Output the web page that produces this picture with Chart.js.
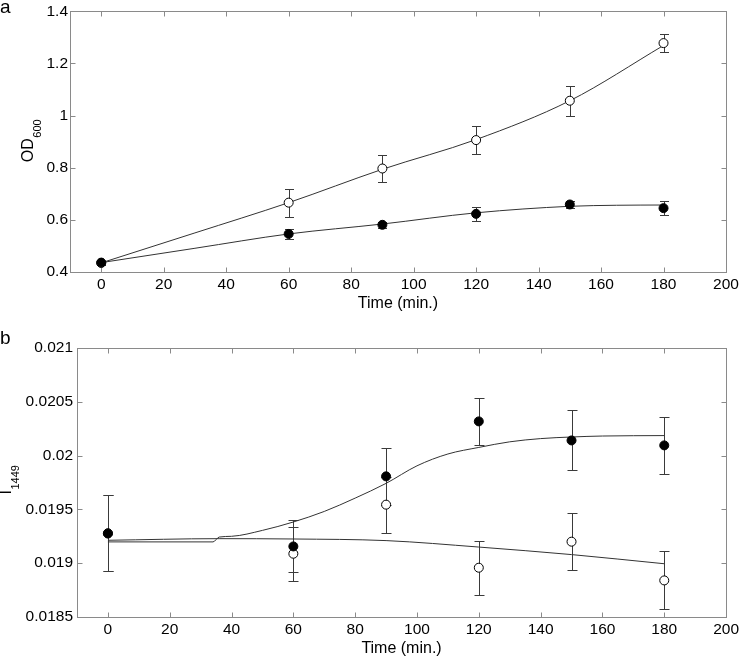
<!DOCTYPE html>
<html>
<head>
<meta charset="utf-8">
<script src="https://cdn.jsdelivr.net/npm/chart.js@4.4.1/dist/chart.umd.min.js"></script>
<style>
  body { margin: 0; background: #fff; }
  #marco { position: relative; width: 742px; height: 658px; }
  #marco canvas { position: absolute; left: 0; }
  .letra { position: absolute; font-family: "Liberation Sans", Arial, sans-serif; font-size: 19px; color: #000; line-height: 1; }
</style>
</head>
<body>
<div id="marco">
  <canvas id="graficoA" width="742" height="330" style="top:0"></canvas>
  <canvas id="graficoB" width="742" height="328" style="top:330px"></canvas>
  <div class="letra" style="left:0px;top:-3px">a</div>
  <div class="letra" style="left:0px;top:328px">b</div>
</div>
<script>
// Datos
const tiempos = [0, 60, 90, 120, 150, 180];
const ticksX = [0, 20, 40, 60, 80, 100, 120, 140, 160, 180, 200];

// Panel a: OD600
const odAbierto = [0.435, 0.666, 0.797, 0.906, 1.057, 1.278];
const odAbiertoErr = [0, 0.054, 0.052, 0.053, 0.058, 0.035];
const odLleno = [0.436, 0.546, 0.581, 0.623, 0.659, 0.645];
const odLlenoErr = [0.008, 0.019, 0.012, 0.026, 0.014, 0.028];
const ajusteTiemposA = [0, 30, 60, 90, 120, 150, 180];
const ajusteAbiertoA = [0.435, 0.550, 0.666, 0.794, 0.908, 1.057, 1.269];
const ajusteTiemposLlenoA = [0, 30, 60, 90, 120, 150, 165, 180];
const ajusteLlenoA = [0.436, 0.491, 0.546, 0.584, 0.627, 0.652, 0.656, 0.657];
const ticksYA = [0.4, 0.6, 0.8, 1, 1.2, 1.4];

// Panel b: I1449
const iAbierto = [0.019277, 0.019088, 0.019544, 0.018958, 0.0192, 0.01884];
const iAbiertoErr = [0.000353, 0.000251, 0.00026, 0.00025, 0.000263, 0.00027];
const iLleno = [0.019277, 0.019156, 0.019807, 0.020318, 0.020141, 0.020095];
const iLlenoErr = [0.000353, 0.000242, 0.000264, 0.00022, 0.000279, 0.000263];
const ajusteTiemposAbiertoB = [0, 36, 60, 90, 120, 150, 180];
const ajusteAbiertoB = [0.019213, 0.019228, 0.019225, 0.01921, 0.01915, 0.01908, 0.018995];
const ajusteTiemposLlenoB = [0, 34, 36, 40, 50, 60, 70, 80, 90, 100, 110, 120, 130, 140, 150, 160, 180];
const ajusteLlenoB = [0.019198, 0.019198, 0.019243, 0.01925, 0.019305, 0.019383, 0.019481, 0.019605, 0.019742, 0.019905, 0.020015, 0.020076, 0.020128, 0.020158, 0.020173, 0.020182, 0.020186];
const ticksYB = [0.0185, 0.019, 0.0195, 0.02, 0.0205, 0.021];

const fuente = '"Liberation Sans", Arial, Helvetica, sans-serif';
Chart.defaults.font.family = fuente;
Chart.defaults.color = '#000';

function puntos(xs, ys) {
  return xs.map((x, i) => ({ x: x, y: ys[i] }));
}

// Caja de ejes con marcas hacia dentro (estilo MATLAB)
const cajaEjes = {
  id: 'cajaEjes',
  beforeDatasetsDraw(chart) {
    const { ctx, chartArea: a, scales: { x, y } } = chart;
    const l = Math.round(a.left) + 0.5, r = Math.round(a.right) + 0.5;
    const t = Math.round(a.top) + 0.5, b = Math.round(a.bottom) + 0.5;
    ctx.save();
    ctx.strokeStyle = '#8a8a8a';
    ctx.lineWidth = 1;
    ctx.strokeRect(l, t, r - l, b - t);
    ctx.beginPath();
    x.ticks.forEach(tk => {
      const px = Math.round(x.getPixelForValue(tk.value)) + 0.5;
      ctx.moveTo(px, b); ctx.lineTo(px, b - 5);
      ctx.moveTo(px, t); ctx.lineTo(px, t + 5);
    });
    y.ticks.forEach(tk => {
      const py = Math.round(y.getPixelForValue(tk.value)) + 0.5;
      ctx.moveTo(l, py); ctx.lineTo(l + 5, py);
      ctx.moveTo(r, py); ctx.lineTo(r - 5, py);
    });
    ctx.stroke();
    ctx.restore();
  }
};

// Barras de error
const barrasError = {
  id: 'barrasError',
  beforeDatasetsDraw(chart) {
    const { ctx, scales: { x, y } } = chart;
    ctx.save();
    ctx.strokeStyle = '#3a3a3a';
    ctx.lineWidth = 1;
    chart.data.datasets.forEach(ds => {
      if (!ds.errores) return;
      ds.data.forEach((p, i) => {
        const e = ds.errores[i];
        if (!e) return;
        const px = Math.round(x.getPixelForValue(p.x)) + 0.5;
        const arriba = Math.round(y.getPixelForValue(p.y + e)) + 0.5;
        const abajo = Math.round(y.getPixelForValue(p.y - e)) + 0.5;
        const c = ds.capa;
        ctx.beginPath();
        ctx.moveTo(px, arriba); ctx.lineTo(px, abajo);
        ctx.moveTo(px - c, arriba); ctx.lineTo(px + c, arriba);
        ctx.moveTo(px - c, abajo); ctx.lineTo(px + c, abajo);
        ctx.stroke();
      });
    });
    ctx.restore();
  }
};

// Titulo del eje Y con subindice
const tituloY = {
  id: 'tituloY',
  afterDraw(chart, args, opts) {
    const { ctx } = chart;
    ctx.save();
    ctx.translate(opts.x, opts.y);
    ctx.rotate(-Math.PI / 2);
    ctx.fillStyle = '#000';
    ctx.textBaseline = 'alphabetic';
    ctx.font = '16px ' + fuente;
    const w1 = ctx.measureText(opts.texto).width;
    ctx.font = '11px ' + fuente;
    const w2 = ctx.measureText(opts.sub).width;
    const inicio = -(w1 + w2) / 2;
    ctx.font = '16px ' + fuente;
    ctx.fillText(opts.texto, inicio, 0);
    ctx.font = '11px ' + fuente;
    ctx.fillText(opts.sub, inicio + w1 + 0.5, 8);
    ctx.restore();
  }
};

function serieAjuste(xs, ys) {
  return {
    data: puntos(xs, ys),
    showLine: true,
    pointRadius: 0,
    borderColor: '#333',
    borderWidth: 1,
    cubicInterpolationMode: 'monotone',
    order: 3
  };
}

function seriePuntos(xs, ys, errs, relleno, capa, orden) {
  return {
    data: puntos(xs, ys),
    showLine: false,
    pointRadius: 4.5,
    pointBorderWidth: 1,
    pointBackgroundColor: relleno,
    pointBorderColor: '#000',
    errores: errs,
    capa: capa,
    order: orden
  };
}

function opciones(cfg) {
  return {
    responsive: false,
    animation: false,
    devicePixelRatio: 1,
    layout: { padding: { top: cfg.arriba, right: cfg.derecha, left: 0, bottom: 0 } },
    plugins: {
      legend: { display: false },
      tooltip: { enabled: false },
      tituloY: cfg.titulo
    },
    scales: {
      x: {
        type: 'linear',
        min: -10,
        max: 200,
        grid: { display: false, drawTicks: false },
        border: { display: false },
        afterBuildTicks: s => { s.ticks = ticksX.map(v => ({ value: v })); },
        afterFit: s => { s.height = cfg.altoX; },
        ticks: { autoSkip: false, padding: 3, color: '#000', font: { size: 15.5 }, callback: v => String(v) },
        title: { display: true, text: 'Time (min.)', color: '#000', font: { size: 16 }, padding: { top: 0, bottom: cfg.padTitulo } }
      },
      y: {
        type: 'linear',
        min: cfg.ticksY[0],
        max: cfg.ticksY[cfg.ticksY.length - 1],
        grid: { display: false, drawTicks: false },
        border: { display: false },
        afterBuildTicks: s => { s.ticks = cfg.ticksY.map(v => ({ value: v })); },
        afterFit: s => { s.width = cfg.anchoY; },
        ticks: { autoSkip: false, padding: cfg.padY, color: '#000', font: { size: 15.5 }, callback: v => String(v) }
      }
    }
  };
}

new Chart(document.getElementById('graficoA'), {
  type: 'scatter',
  data: {
    datasets: [
      serieAjuste(ajusteTiemposA, ajusteAbiertoA),
      serieAjuste(ajusteTiemposLlenoA, ajusteLlenoA),
      seriePuntos(tiempos, odAbierto, odAbiertoErr, '#fff', 4.5, 2),
      seriePuntos(tiempos, odLleno, odLlenoErr, '#000', 4.5, 1)
    ]
  },
  options: opciones({
    arriba: 9, derecha: 16, altoX: 58, anchoY: 70, padY: 2, padTitulo: 17, ticksY: ticksYA,
    titulo: { texto: 'OD', sub: '600', x: 33, y: 141 }
  }),
  plugins: [cajaEjes, barrasError, tituloY]
});

new Chart(document.getElementById('graficoB'), {
  type: 'scatter',
  data: {
    datasets: [
      serieAjuste(ajusteTiemposAbiertoB, ajusteAbiertoB),
      serieAjuste(ajusteTiemposLlenoB, ajusteLlenoB),
      seriePuntos(tiempos, iAbierto, iAbiertoErr, '#fff', 5, 2),
      seriePuntos(tiempos, iLleno, iLlenoErr, '#000', 5, 1)
    ]
  },
  options: opciones({
    arriba: 18, derecha: 13, altoX: 41, anchoY: 77, padY: 4, padTitulo: 0, ticksY: ticksYB,
    titulo: { texto: 'I', sub: '1449', x: 11, y: 150 }
  }),
  plugins: [cajaEjes, barrasError, tituloY]
});
</script>
</body>
</html>
